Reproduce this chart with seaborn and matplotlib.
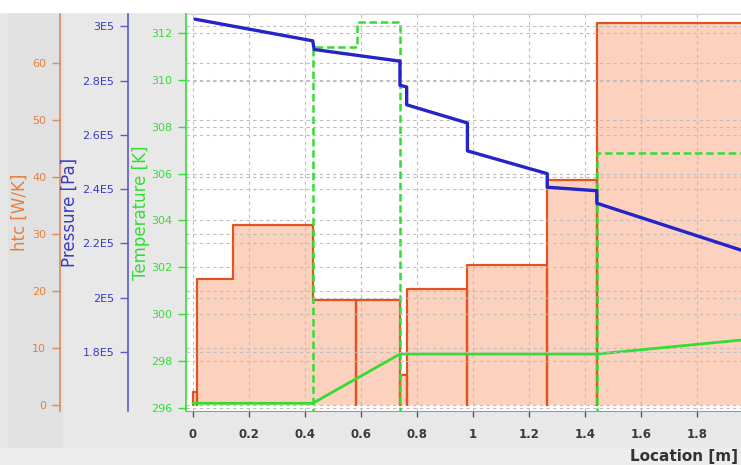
import matplotlib
matplotlib.use('Agg')
import matplotlib.pyplot as plt
from matplotlib.patches import Rectangle
import seaborn as sns

# Location [m] ticks
loc_ticks = [0, 0.2, 0.4, 0.6, 0.8, 1.0, 1.2, 1.4, 1.6, 1.8]

# htc [W/K], constant per component; dip = line drops to 0 at the left edge
htc_edges = [0.0, 0.014, 0.144, 0.4275, 0.582, 0.739, 0.763, 0.98, 1.265, 1.442, 1.96]
htc_values = [2.2, 22.1, 31.6, 18.5, 18.5, 5.3, 20.3, 24.6, 39.5, 67.1]
htc_dip = [True, True, False, False, True, True, True, True, True, True]

# fluid temperature [K]
temp_x = [0.0, 0.4275, 0.739, 1.442, 1.96]
temp_k = [296.2, 296.2, 298.3, 298.3, 298.9]

# wall temperature [K] (295 = below the shown range)
wall_edges = [0.0, 0.4275, 0.585, 0.739, 1.442, 1.96]
wall_k = [295.0, 311.4, 312.45, 295.0, 306.9]

# pressure [Pa]
pres_x = [0.007, 0.4275, 0.433, 0.739, 0.739, 0.763, 0.763, 0.98, 0.98,
          1.265, 1.265, 1.442, 1.442, 1.96]
pres_pa = [3.027e5, 2.947e5, 2.915e5, 2.872e5, 2.783e5, 2.777e5, 2.711e5,
           2.644e5, 2.541e5, 2.457e5, 2.407e5, 2.394e5, 2.348e5, 2.174e5]

htc_ticks = [0, 10, 20, 30, 40, 50, 60]
pres_ticks = [1.8e5, 2.0e5, 2.2e5, 2.4e5, 2.6e5, 2.8e5, 3.0e5]
pres_labels = ['1.8E5', '2E5', '2.2E5', '2.4E5', '2.6E5', '2.8E5', '3E5']
temp_ticks = [296, 298, 300, 302, 304, 306, 308, 310, 312]


def step_xy(edges, values, dips=None):
    xs, ys = [], []
    for i, v in enumerate(values):
        if dips is not None and dips[i]:
            xs.append(edges[i])
            ys.append(0)
        xs += [edges[i], edges[i + 1]]
        ys += [v, v]
    return xs, ys


sns.set_style('white')
plt.rcParams['font.family'] = ['DejaVu Sans']

C_HTC, C_HTC_TXT, C_FILL = '#e2531f', '#e58040', '#fcd2bf'
C_P, C_P_TXT = '#2424c8', '#3a3ac0'
C_T = '#33dd33'
GRID = dict(color='#bdbdbd', linestyle=(0, (3, 3)), linewidth=0.8)

W, H = 741, 465
fig = plt.figure(figsize=(W / 100, H / 100), dpi=100, facecolor='#e8e8e8')
fig.patches.append(Rectangle((8 / W, 1 - 448 / H), 54 / W, 436 / H, transform=fig.transFigure,
                             color='#e1e1e1', zorder=-2))
fig.patches.append(Rectangle((0, 0), 1, 17 / H, transform=fig.transFigure, color='#ececec', zorder=-2))
fig.patches.append(Rectangle((0, 1 - 12 / H), 1, 12 / H, transform=fig.transFigure, color='white', zorder=-2))

ax_h = fig.add_axes([186 / W, 1 - 411 / H, (W - 186) / W, (411 - 14) / H])
ax_t = ax_h.twinx()
ax_p = ax_h.twinx()

# htc step profile with fill
hx, hy = step_xy(htc_edges, htc_values, htc_dip)
ax_h.fill_between(hx, 0, hy, color=C_FILL, linewidth=0)
sns.lineplot(x=hx, y=hy, sort=False, estimator=None, color=C_HTC, linewidth=1.6, ax=ax_h)

# temperatures
wx, wy = step_xy(wall_edges, wall_k)
sns.lineplot(x=wx, y=wy, sort=False, estimator=None, color=C_T, linewidth=1.8,
             ax=ax_t).lines[-1].set_dashes([3, 1.5])
sns.lineplot(x=temp_x, y=temp_k, sort=False, estimator=None, color=C_T, linewidth=2, ax=ax_t)

# pressure
sns.lineplot(x=pres_x, y=pres_pa, sort=False, estimator=None, color=C_P, linewidth=2.4, ax=ax_p)

ax_h.set_xlim(-0.025, 1.957)
ax_h.set_ylim(-1.05, 68.6)
ax_t.set_ylim(295.87, 312.81)
ax_p.set_ylim(1.5814e5, 3.046e5)

# grid
ax_h.set_axisbelow('line')
ax_h.grid(True, axis='both', **GRID)
ax_t.grid(True, axis='y', **GRID)
ax_p.grid(True, axis='y', **GRID)

# x axis
ax_h.set_xticks(loc_ticks)
ax_h.set_xticklabels(['%g' % v for v in loc_ticks], fontweight='bold', fontsize=8.5, color='#3a3a3a')
ax_h.tick_params(axis='x', direction='out', length=4, width=1, color='#555555', pad=8, bottom=True)
ax_h.spines['bottom'].set_color('#9a9a9a')
ax_h.spines['top'].set_color('#d4d4d4')
ax_h.spines['right'].set_visible(False)
ax_h.set_xlabel('')
fig.text(630 / W, 4 / H, 'Location [m]', fontsize=11, fontweight='bold', color='#333333',
         ha='left', va='baseline')

# y axes on the left side
axes_cfg = [
    (ax_h, -126 / 555, '#dc8a58', C_HTC_TXT, 'htc [W/K]', -0.283, htc_ticks, None),
    (ax_p, -58 / 555, '#5a5ad0', C_P_TXT, 'Pressure [Pa]', -0.193, pres_ticks, pres_labels),
    (ax_t, 0.0, C_T, C_T, 'Temperature [K]', -0.064, temp_ticks, None),
]
for ax, pos, spc, txc, label, lx, ticks, labels in axes_cfg:
    ax.yaxis.tick_left()
    ax.yaxis.set_label_position('left')
    for side in ['top', 'right', 'bottom']:
        if ax is not ax_h:
            ax.spines[side].set_visible(False)
    ax.spines['left'].set_visible(True)
    ax.spines['left'].set_position(('axes', pos))
    ax.spines['left'].set_color(spc)
    ax.spines['left'].set_linewidth(1.2)
    ax.set_yticks(ticks)
    ax.set_yticklabels(labels if labels else ['%g' % t for t in ticks], fontsize=8, color=txc)
    ax.tick_params(axis='y', direction='out', length=6, width=1, color=spc, pad=4, left=True)
    ax.set_ylabel(label, fontsize=12, color=txc)
    ax.yaxis.set_label_coords(lx, 0.5)

fig.savefig('out.png', dpi=100, facecolor=fig.get_facecolor())
